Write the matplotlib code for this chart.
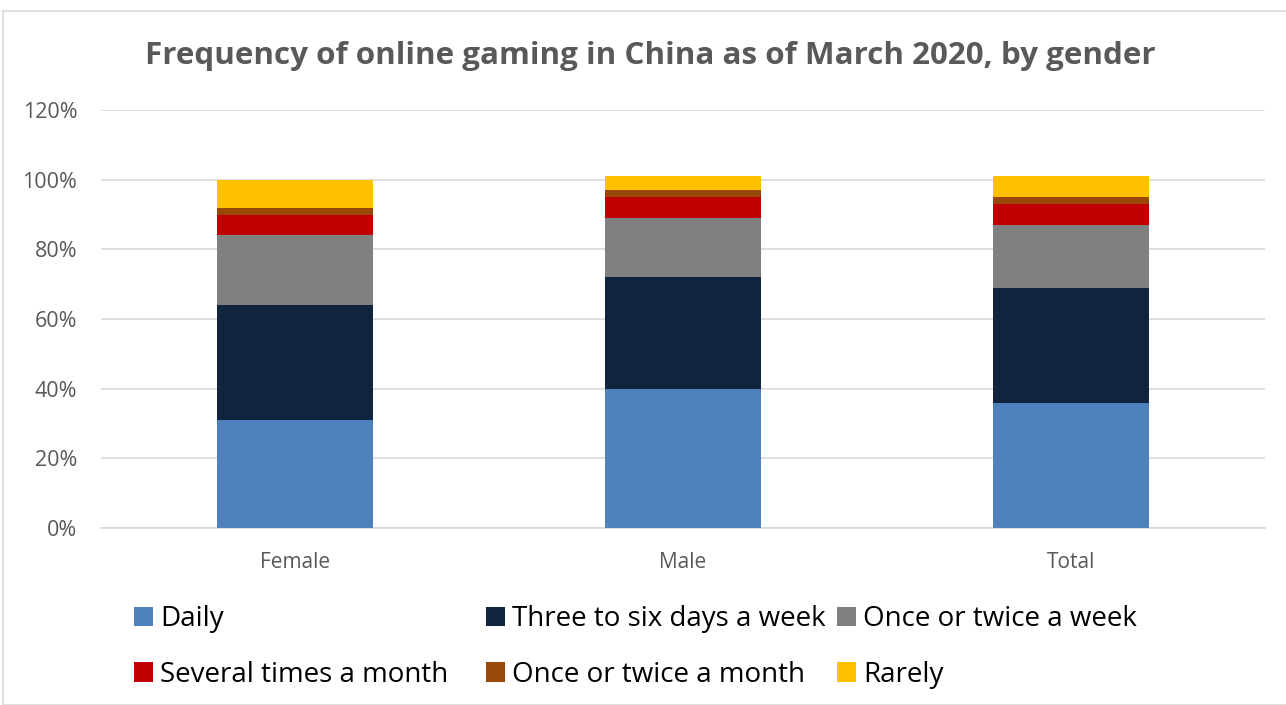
import matplotlib.pyplot as plt
import numpy as np

plt.rcParams['font.family'] = ['Open Sans', 'DejaVu Sans']

genders = ["Female", "Male", "Total"]
categories = ["Daily", "Three to six days a week", "Once or twice a week",
              "Several times a month", "Once or twice a month", "Rarely"]
daily = [31, 40, 36]
three_to_six = [33, 32, 33]
weekly = [20, 17, 18]
several_month = [6, 6, 6]
monthly = [2, 2, 2]
rarely = [8, 4, 6]
colors = ["#4F81BD", "#10243F", "#808080", "#C00000", "#984807", "#FFC000"]

series = [daily, three_to_six, weekly, several_month, monthly, rarely]

fig = plt.figure(figsize=(12.86, 7.05), dpi=100)
ax = fig.add_axes([101 / 1286, 1 - 528 / 705, (1265 - 101) / 1286, (528 - 110) / 705])

# chart border
fig.patches.append(plt.Rectangle((3 / 1286, 0), 1.2, 1 - 11 / 705,
                                 transform=fig.transFigure, fill=False,
                                 edgecolor="#D9D9D9", linewidth=1.2))

x = np.arange(len(genders))
bottom = np.zeros(len(genders))
for name, vals, c in zip(categories, series, colors):
    ax.bar(x, vals, 0.4, bottom=bottom, color=c, label=name, zorder=3)
    bottom += np.array(vals)

ax.set_xlim(-0.5, 2.5)
ax.set_ylim(0, 120)
ax.set_yticks(range(0, 121, 20))
ax.set_yticklabels([f"{v}%" for v in range(0, 121, 20)])
ax.set_xticks(x)
ax.set_xticklabels(genders)
ax.grid(axis="y", color="#D9D9D9", linewidth=1.2, zorder=0)
for s in ["top", "right", "left"]:
    ax.spines[s].set_visible(False)
ax.spines["bottom"].set_color("#D9D9D9")
ax.spines["bottom"].set_linewidth(1.2)
ax.tick_params(axis="both", length=0, labelsize=15, colors="#595959")
ax.tick_params(axis="x", pad=17)
ax.tick_params(axis="y", labelsize=15.5, pad=17)

fig.text(0.506, 1 - 56 / 705, "Frequency of online gaming in China as of March 2020, by gender",
         ha="center", va="center", fontsize=22.6, fontweight="bold", color="#595959")

# legend: three equal-width columns, two rows, read across
handles, labels = ax.get_legend_handles_labels()
col_x = [109, 461, 812]
for j, cx in enumerate(col_x):
    idx = [j, j + 3]
    leg = fig.legend([handles[i] for i in idx], [labels[i] for i in idx],
                     loc="center left", bbox_to_anchor=(cx / 1286, 1 - 647 / 705),
                     frameon=False, fontsize=20, handlelength=0.7, handleheight=0.7,
                     handletextpad=0.25, labelspacing=1.0)
    for t in leg.get_texts():
        t.set_color("#000000")

fig.savefig("out.png", dpi=100)
